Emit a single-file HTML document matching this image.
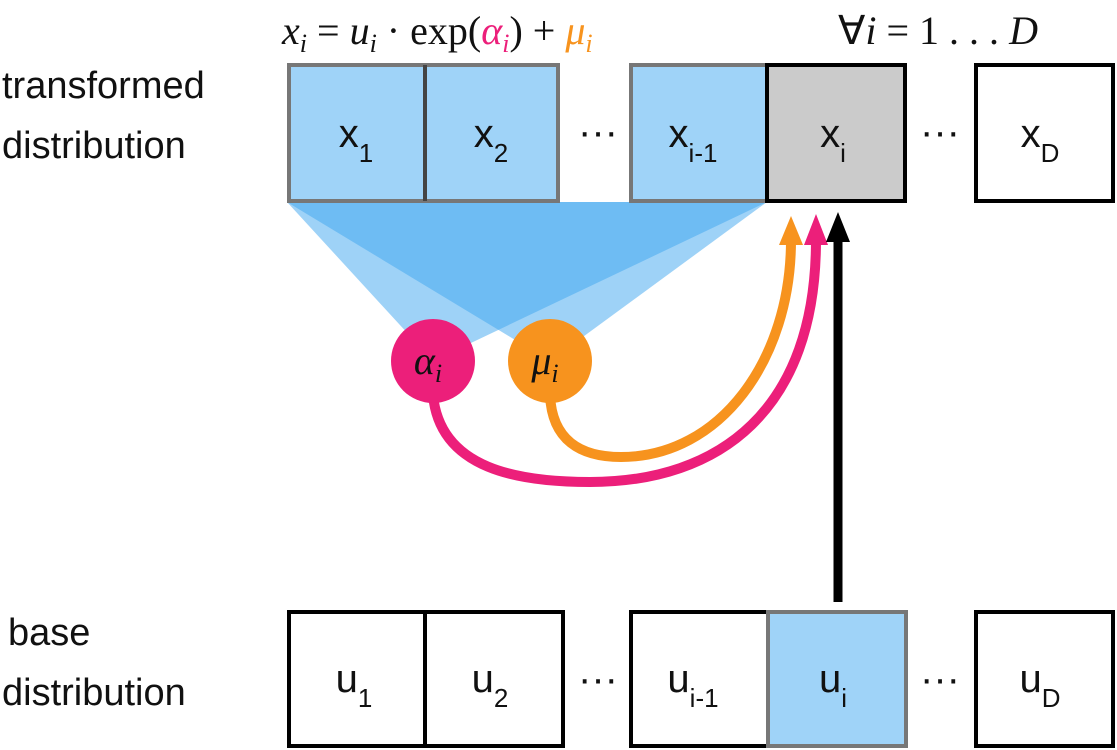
<!DOCTYPE html>
<html><head><style>
body{margin:0;background:#fff;}
svg{display:block}
</style></head><body>
<svg width="1117" height="750" viewBox="0 0 1117 750" xmlns="http://www.w3.org/2000/svg" font-family="Liberation Sans, sans-serif">
<g font-size="38" fill="#111">
<text x="2" y="98">transformed</text>
<text x="2" y="158">distribution</text>
<text x="8" y="645">base</text>
<text x="2" y="705">distribution</text>
</g>
<g font-family="Liberation Serif, serif" font-size="40" fill="#111">
<text x="282" y="44"><tspan font-style="italic">x</tspan><tspan font-style="italic" font-size="26" dy="8">i</tspan><tspan dy="-8"> = </tspan><tspan font-style="italic">u</tspan><tspan font-style="italic" font-size="26" dy="8">i</tspan><tspan dy="-8"> · exp(</tspan><tspan font-style="italic" fill="#ec1f7a">α</tspan><tspan font-style="italic" font-size="26" dy="8" fill="#ec1f7a">i</tspan><tspan dy="-8">) + </tspan><tspan font-style="italic" fill="#f7931e">μ</tspan><tspan font-style="italic" font-size="26" dy="8" fill="#f7931e">i</tspan></text>
<text x="838" y="44">∀<tspan font-style="italic">i</tspan> = 1 . . . <tspan font-style="italic">D</tspan></text>
</g>
<!-- fan -->
<polygon points="287,202 767,202 433,361" fill="#3ea6f0" opacity="0.5"/>
<polygon points="287,202 767,202 550,361" fill="#3ea6f0" opacity="0.5"/>
<!-- top boxes -->
<g stroke-width="4">
<rect x="289" y="65" width="136" height="136" fill="#9fd3f8" stroke="#777"/>
<rect x="425" y="65" width="133" height="136" fill="#9fd3f8" stroke="#777"/>
<line x1="425" y1="65" x2="425" y2="201" stroke="#444"/>
<rect x="631" y="65" width="136" height="136" fill="#9fd3f8" stroke="#777"/>
<rect x="767" y="65" width="138" height="136" fill="#cbcbcb" stroke="#000"/>
<rect x="976" y="65" width="137" height="136" fill="#fff" stroke="#000"/>
</g>
<g font-size="40" fill="#111" text-anchor="middle">
<text x="356" y="147">x<tspan font-size="26" dy="15">1</tspan></text>
<text x="491" y="147">x<tspan font-size="26" dy="15">2</tspan></text>
<text x="598" y="145">···</text>
<text x="693" y="147">x<tspan font-size="26" dy="15">i-1</tspan></text>
<text x="833" y="147">x<tspan font-size="26" dy="15">i</tspan></text>
<text x="940" y="145">···</text>
<text x="1040" y="147">x<tspan font-size="26" dy="15">D</tspan></text>
</g>
<!-- bottom boxes -->
<g stroke-width="4">
<rect x="289" y="612" width="136" height="134" fill="#fff" stroke="#000"/>
<rect x="425" y="612" width="138" height="134" fill="#fff" stroke="#000"/>
<rect x="631" y="612" width="137" height="134" fill="#fff" stroke="#000"/>
<rect x="768" y="612" width="138" height="134" fill="#9fd3f8" stroke="#777"/>
<rect x="976" y="612" width="137" height="134" fill="#fff" stroke="#000"/>
</g>
<g font-size="40" fill="#111" text-anchor="middle">
<text x="354" y="692">u<tspan font-size="26" dy="15">1</tspan></text>
<text x="490" y="692">u<tspan font-size="26" dy="15">2</tspan></text>
<text x="598" y="692">···</text>
<text x="693" y="692">u<tspan font-size="26" dy="15">i-1</tspan></text>
<text x="833" y="692">u<tspan font-size="26" dy="15">i</tspan></text>
<text x="940" y="692">···</text>
<text x="1040" y="692">u<tspan font-size="26" dy="15">D</tspan></text>
</g>
<!-- arrows -->
<path d="M433,395 C440,470 520,482 590,482 C720,482 816,410 816,240" fill="none" stroke="#ec1f7a" stroke-width="10"/>
<polygon points="804,245 816,214 828,245" fill="#ec1f7a"/>
<path d="M550,395 C552,440 580,457 621,457 C720,457 791,360 791,240" fill="none" stroke="#f7931e" stroke-width="10"/>
<polygon points="779,245 791,216 803,245" fill="#f7931e"/>
<line x1="838" y1="602" x2="838" y2="238" stroke="#000" stroke-width="9"/>
<polygon points="826,242 838,212 850,242" fill="#000"/>
<!-- circles -->
<circle cx="433" cy="361" r="42" fill="#ec1f7a"/>
<circle cx="550" cy="361" r="42" fill="#f7931e"/>
<g font-family="Liberation Serif, serif" font-style="italic" font-size="40" fill="#111" text-anchor="middle">
<text x="428" y="374">α<tspan font-size="26" dy="8">i</tspan></text>
<text x="545" y="374">μ<tspan font-size="26" dy="8">i</tspan></text>
</g>
</svg>
</body></html>
